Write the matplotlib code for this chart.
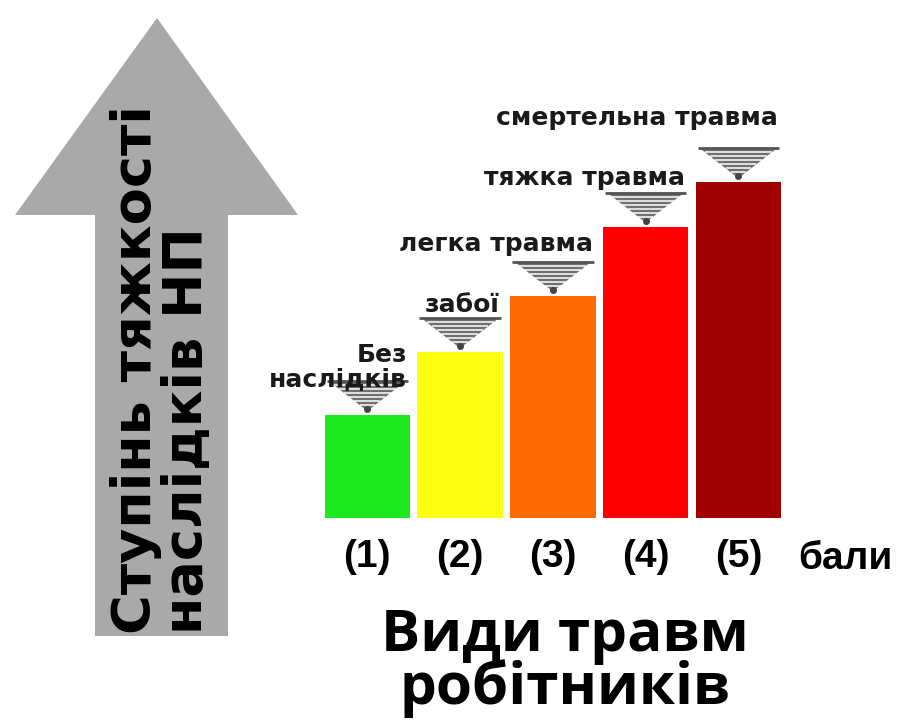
import matplotlib
matplotlib.use("Agg")
import matplotlib.pyplot as plt
import numpy as np
from matplotlib.patches import Polygon

# ---- data ----
categories = ["Без\nнаслідків", "забої", "легка травма", "тяжка травма", "смертельна травма"]
tick_labels = ["(1)", "(2)", "(3)", "(4)", "(5)"]
scores = [1, 2, 3, 4, 5]
severity = [1.0, 1.61, 2.16, 2.83, 3.26]
colors = ["#1ee81e", "#ffff14", "#ff6a00", "#ff0000", "#a00000"]
unit_label = "бали"
x_title = "Види травм\nробітників"
y_title_1 = "Ступінь тяжкості"
y_title_2 = "наслідків НП"

W, H = 899, 722
fig = plt.figure(figsize=(W / 100, H / 100), dpi=100)
fig.patch.set_facecolor("white")


def fx(px):
    return px / W


def fy(py):
    return 1 - py / H


# ---- big gray arrow (decoration) ----
arrow_px = [(95, 636), (95, 215), (15, 215), (157, 18), (298, 215), (228, 215), (228, 636)]
fig.patches.append(Polygon([(fx(a), fy(b)) for a, b in arrow_px], closed=True,
                           transform=fig.transFigure, facecolor="#a9a9a9",
                           edgecolor="none", zorder=0))
yfont = ["DejaVu Sans"]
fig.text(fx(151), fy(634), y_title_1, rotation=90, rotation_mode="anchor",
         ha="left", va="baseline", fontsize=39, fontweight="bold",
         family=yfont, color="black")
fig.text(fx(202), fy(634), y_title_2, rotation=90, rotation_mode="anchor",
         ha="left", va="baseline", fontsize=39, fontweight="bold",
         family=yfont, color="black")

# ---- bar axes ----
ax_l, ax_r, ax_b, ax_t = 320, 795, 518, 80
ax = fig.add_axes([fx(ax_l), fy(ax_b), (ax_r - ax_l) / W, (ax_b - ax_t) / H])
ax.patch.set_alpha(0)
x = np.arange(len(scores))
bw = 0.92
ax.bar(x, severity, width=bw, color=colors, edgecolor="none", zorder=2)
ax.set_xlim(-0.51, 4.61)
ymax = severity[0] * (ax_b - ax_t) / 103.0
ax.set_ylim(0, ymax)
for s in ax.spines.values():
    s.set_visible(False)
ax.set_yticks([])
narrow = ["Liberation Sans Narrow", "Liberation Sans", "DejaVu Sans"]
ax.set_xticks(x, tick_labels, fontsize=28, family=narrow, fontweight="bold")
ax.tick_params(axis="x", length=0, pad=15)
ax.annotate(unit_label, xy=(x[-1], 0), xytext=(60, -41), textcoords="offset pixels",
            ha="left", va="center", fontsize=28, family=narrow, fontweight="bold")

# px -> data conversions
ax_w_px = ax_r - ax_l
ax_h_px = ax_b - ax_t
dx = (ax.get_xlim()[1] - ax.get_xlim()[0]) / ax_w_px
dy = (ax.get_ylim()[1] - ax.get_ylim()[0]) / ax_h_px

# striped inverted triangles + labels
label_offsets = [48, 47, 52, 49, 64]
for xi, v, lab, off in zip(x, severity, categories, label_offsets):
    tip = v + 4 * dy
    top = v + 34 * dy
    half = (bw / 2) - 4 * dx
    tri = Polygon([(xi - half, top), (xi + half, top), (xi, tip)], closed=True,
                  facecolor="#707070", edgecolor="none", zorder=3)
    ax.add_patch(tri)
    # white stripes
    for k in range(1, 7):
        yy = top - k * 4 * dy
        frac = (yy - tip) / (top - tip)
        ax.plot([xi - half * frac, xi + half * frac], [yy, yy], color="white",
                lw=1.1, zorder=4, solid_capstyle="butt")
    ax.plot([xi - half - 2 * dx, xi + half + 2 * dx], [top, top], color="#555555",
            lw=2, zorder=4, solid_capstyle="butt")
    ax.plot([xi], [tip + 2 * dy], marker="o", ms=4, color="#444444", zorder=5)
    ax.annotate(lab, xy=(xi + bw / 2, v), xytext=(-3, off), textcoords="offset pixels",
                ha="right", va="center", fontsize=18, fontweight="bold",
                family="DejaVu Sans", color="#1a1a1a", linespacing=1.0,
                multialignment="right", zorder=6)

# ---- x title (one text, two lines) ----
tfont = ["Open Sans", "DejaVu Sans"]
fig.text(fx(565), fy(607), x_title, ha="center", va="top", linespacing=0.86,
         multialignment="center", fontsize=42, fontweight="bold", family=tfont)

fig.savefig("out.png", dpi=100, facecolor="white")
